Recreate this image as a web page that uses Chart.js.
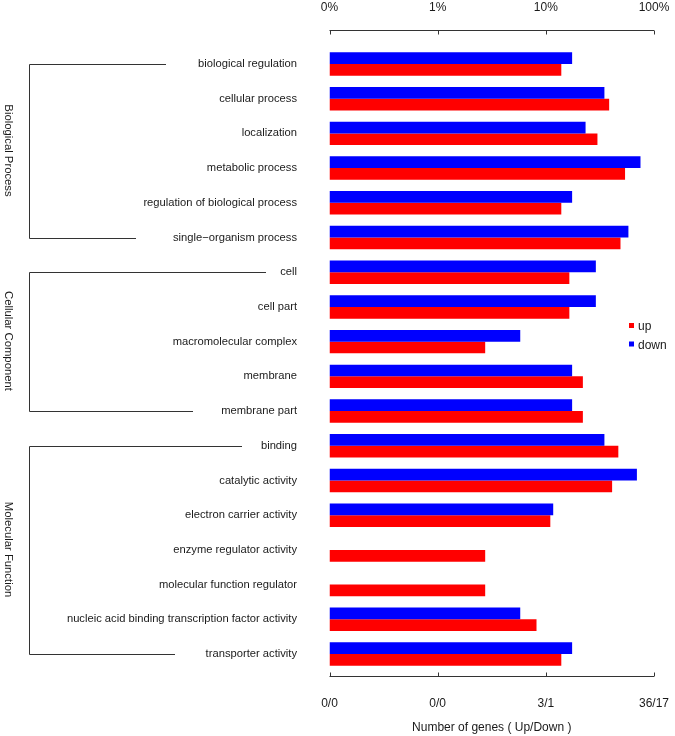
<!DOCTYPE html>
<html>
<head>
<meta charset="utf-8">
<script src="https://cdn.jsdelivr.net/npm/chart.js@4.4.0/dist/chart.umd.min.js"></script>
<style>
  html, body { margin: 0; padding: 0; background: #fff; }
  #wrap { width: 675px; height: 736px; }
</style>
</head>
<body>
<div id="wrap"><canvas id="chart"></canvas></div>
<script>
// GO terms, top to bottom
var categories = [
  "biological regulation", "cellular process", "localization", "metabolic process",
  "regulation of biological process", "single\u2212organism process",
  "cell", "cell part", "macromolecular complex", "membrane", "membrane part",
  "binding", "catalytic activity", "electron carrier activity", "enzyme regulator activity",
  "molecular function regulator", "nucleic acid binding transcription factor activity",
  "transporter activity"
];

// percent of genes (log axis)
var upValues = [13.9, 38.5, 30.0, 54.0, 13.9, 49.0, 16.5, 16.5, 2.75, 22.0, 22.0, 46.8, 41.0, 11.0, 2.75, 2.75, 8.2, 13.9];
var downValues = [17.5, 34.8, 23.3, 75.0, 17.5, 58.0, 29.0, 29.0, 5.8, 17.5, 17.5, 34.8, 69.5, 11.7, null, null, 5.8, 17.5];

var tickValues = [0.1, 1, 10, 100];
var topLabels = ["0%", "1%", "10%", "100%"];
var bottomLabels = ["0/0", "0/0", "3/1", "36/17"];

var groupNames = ["Biological Process", "Cellular Component", "Molecular Function"];
var groupFirst = [0, 6, 11];
var groupLast = [5, 10, 17];

var FONT = "'Liberation Sans', Arial, Helvetica, sans-serif";
var TXT = "#1a1a1a";

// bracket line ends (x) for the first/last term of each group
var bracketEnds = [[166, 136], [266, 193], [242, 175]];

var decorations = {
  id: 'decorations',
  afterDraw: function (chart) {
    var c = chart.ctx;
    var x = chart.scales.x, y = chart.scales.y;
    var left = x.getPixelForValue(tickValues[0]);
    var right = x.getPixelForValue(tickValues[tickValues.length - 1]);
    c.save();
    c.strokeStyle = "#333";
    c.lineWidth = 1;

    // top axis line with inward ticks
    var yt = 30.5;
    c.beginPath();
    c.moveTo(left, yt); c.lineTo(right, yt);
    tickValues.forEach(function (v) {
      var px = Math.round(x.getPixelForValue(v)) + 0.5;
      c.moveTo(px, yt); c.lineTo(px, yt + 4);
    });
    // bottom axis line
    var yb = 676.5;
    c.moveTo(left, yb); c.lineTo(right, yb);
    tickValues.forEach(function (v) {
      var px = Math.round(x.getPixelForValue(v)) + 0.5;
      c.moveTo(px, yb); c.lineTo(px, yb - 4);
    });
    c.stroke();

    // group brackets
    c.strokeStyle = "#333";
    groupNames.forEach(function (name, g) {
      var y1 = Math.round(y.getPixelForValue(groupFirst[g])) + 0.5;
      var y2 = Math.round(y.getPixelForValue(groupLast[g])) + 0.5;
      var bx = 29.5;
      c.beginPath();
      c.moveTo(bracketEnds[g][0], y1); c.lineTo(bx, y1);
      c.lineTo(bx, y2); c.lineTo(bracketEnds[g][1], y2);
      c.stroke();

      c.save();
      c.translate(8, (y1 + y2) / 2 - 1);
      c.rotate(Math.PI / 2);
      c.fillStyle = TXT;
      c.font = "11.3px " + FONT;
      c.textAlign = "center";
      c.textBaseline = "middle";
      c.fillText(name, 0, 0);
      c.restore();
    });

    // legend (up first, then down)
    var items = chart.data.datasets.slice().reverse();
    c.font = "12px " + FONT;
    c.textBaseline = "middle";
    c.textAlign = "left";
    items.forEach(function (ds, i) {
      var ly = 325.5 + i * 18.5;
      c.fillStyle = ds.backgroundColor;
      c.fillRect(629, ly - 2.5, 5, 5);
      c.fillStyle = TXT;
      c.fillText(ds.label, 638, ly + 1.5);
    });
    c.restore();
  }
};

function noSidePadding(s) { s.paddingLeft = 0; s.paddingRight = 0; }

new Chart(document.getElementById("chart"), {
  type: 'bar',
  data: {
    labels: categories,
    datasets: [
      { label: "down", data: downValues, backgroundColor: "#0000FF", xAxisID: 'x' },
      { label: "up", data: upValues, backgroundColor: "#FF0000", xAxisID: 'x' }
    ]
  },
  options: {
    indexAxis: 'y',
    responsive: true,
    maintainAspectRatio: false,
    animation: false,
    layout: { padding: { left: 0, right: 21, top: 0, bottom: 0 } },
    datasets: { bar: { categoryPercentage: 0.675, barPercentage: 1.0 } },
    plugins: { legend: { display: false }, tooltip: { enabled: false } },
    scales: {
      x: {
        type: 'logarithmic',
        position: 'top',
        min: 0.1, max: 100,
        grid: { display: false, drawTicks: false },
        border: { display: false },
        afterBuildTicks: function (s) { s.ticks = tickValues.map(function (v) { return { value: v }; }); },
        afterFit: function (s) { s.height = 46.6; noSidePadding(s); },
        ticks: {
          padding: 31.5,
          color: TXT,
          font: { size: 12, family: FONT },
          maxRotation: 0,
          callback: function (v, i) { return topLabels[i]; }
        }
      },
      x2: {
        type: 'logarithmic',
        position: 'bottom',
        min: 0.1, max: 100,
        grid: { display: false, drawTicks: false },
        border: { display: false },
        afterBuildTicks: function (s) { s.ticks = tickValues.map(function (v) { return { value: v }; }); },
        afterFit: function (s) { s.height = 64.6; noSidePadding(s); },
        ticks: {
          padding: 25,
          color: TXT,
          font: { size: 12, family: FONT },
          maxRotation: 0,
          callback: function (v, i) { return bottomLabels[i]; }
        },
        title: {
          display: true,
          text: "Number of genes ( Up/Down )",
          color: TXT,
          font: { size: 12, family: FONT },
          padding: { top: 0, bottom: 1.5 }
        }
      },
      y: {
        grid: { display: false, drawTicks: false },
        border: { display: false },
        afterFit: function (s) { s.width = 329.5; },
        ticks: {
          padding: 32.5,
          color: TXT,
          font: { size: 11.2, family: FONT },
          autoSkip: false
        }
      }
    }
  },
  plugins: [decorations]
});
</script>
</body>
</html>
